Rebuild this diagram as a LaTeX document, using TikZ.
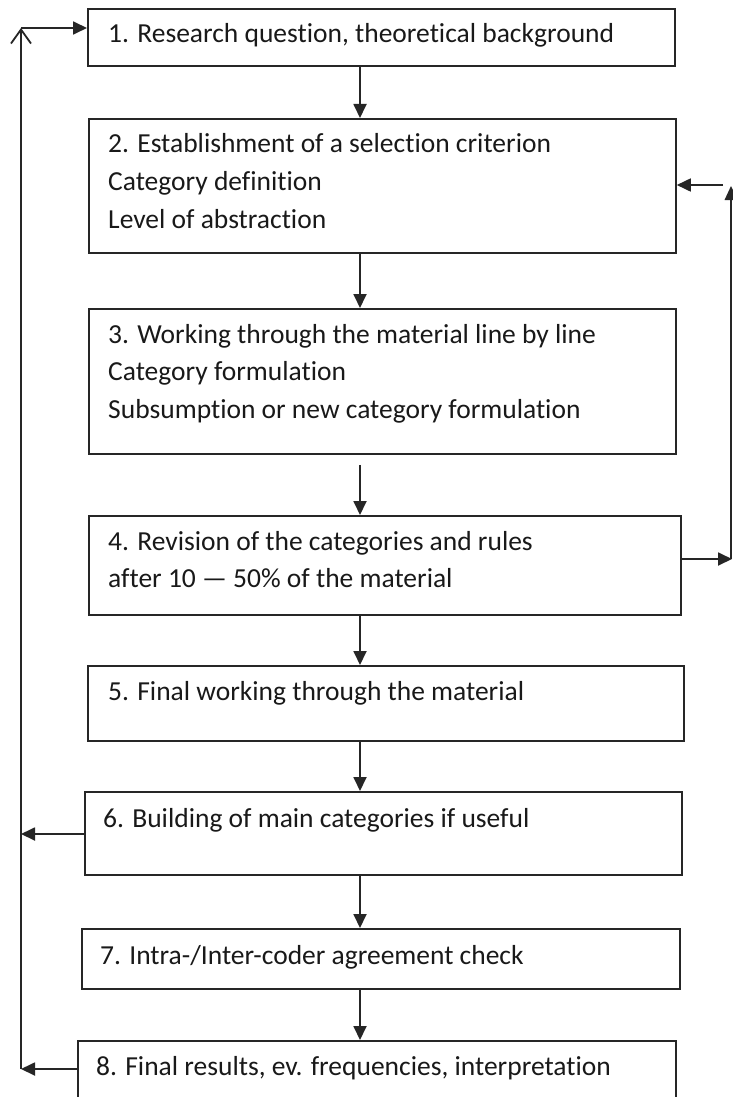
\documentclass[tikz,border=0pt]{standalone}
\usepackage{fontspec}
\setmainfont{Carlito}[Ligatures=NoCommon]
\usetikzlibrary{arrows.meta,calc}
\begin{document}
\begin{tikzpicture}[x=1pt,y=-1pt,
  box/.style={draw=black!85,line width=1.8pt,rectangle,inner sep=0pt,anchor=north west},
  txt/.style={anchor=base west,inner sep=0pt,font=\fontsize{27.5}{33}\selectfont,text=black!90},
  arr/.style={draw=black!85,line width=1.8pt,-{Triangle[length=14pt,width=13pt]}},
  ln/.style={draw=black!85,line width=1.8pt},
  openarr/.style={draw=black!85,line width=1.8pt,-{Straight Barb[length=14pt,width=20pt]}}]
\clip (0,0) rectangle (733,1097);
\fill[white] (0,0) rectangle (733,1097);
% boxes
\node[box,minimum width=587pt,minimum height=57pt] (b1) at (87,8) {};
\node[box,minimum width=587pt,minimum height=134pt] (b2) at (88,118) {};
\node[box,minimum width=587pt,minimum height=145pt] (b3) at (88,308) {};
\node[box,minimum width=592pt,minimum height=99pt] (b4) at (88,515) {};
\node[box,minimum width=596pt,minimum height=75pt] (b5) at (87,665) {};
\node[box,minimum width=597pt,minimum height=83pt] (b6) at (84,791) {};
\node[box,minimum width=598pt,minimum height=60pt] (b7) at (81,928) {};
\node[box,minimum width=598pt,minimum height=80pt] (b8) at (77,1040) {};
% texts
\node[txt] (t1) at (108,43) {1. Research question, theoretical background};
\node[txt] (t2a) at (108,153) {2. Establishment of a selection criterion};
\node[txt] (t2b) at (108,190.5) {Category definition};
\node[txt] (t2c) at (108,228) {Level of abstraction};
\node[txt] (t3a) at (108,343) {3. Working through the material line by line};
\node[txt] (t3b) at (108,380.5) {Category formulation};
\node[txt] (t3c) at (108,418) {Subsumption or new category formulation};
\node[txt] (t4a) at (108,550) {4. Revision of the categories and rules};
\node[txt] (t4b) at (108,587.5) {after 10 — 50\% of the material};
\node[txt] (t5) at (108,700) {5. Final working through the material};
\node[txt] (t6) at (103,827) {6. Building of main categories if useful};
\node[txt] (t7) at (100,964) {7. Intra-/Inter-coder agreement check};
\node[txt] (t8) at (96,1075) {8. Final results, ev. frequencies, interpretation};
% main flow
\coordinate (xc) at (360,0);
\draw[arr] (b1.south -| xc) -- (b2.north -| xc);
\draw[arr] (b2.south -| xc) -- (b3.north -| xc);
\draw[arr] ([yshift=-10pt]b3.south -| xc) -- (b4.north -| xc);
\draw[arr] (b4.south -| xc) -- (b5.north -| xc);
\draw[arr] (b5.south -| xc) -- (b6.north -| xc);
\draw[arr] (b6.south -| xc) -- (b7.north -| xc);
\draw[arr] (b7.south -| xc) -- (b8.north -| xc);
% right loop
\coordinate (r0) at (680,559);
\coordinate (r1) at (732,559);
\coordinate (r2) at (731,186);
\coordinate (r3) at (723,185);
\draw[arr] (b4.east |- r0) -- (r1);
\draw[ln] (731,559) -- (731,196);
\fill[black!85] (r2) -- (724.5,200) -- (737.5,200) -- cycle;
\draw[arr] (r3) -- (b2.east |- r3);
% left loop
\coordinate (l6) at (21,834);
\coordinate (l8) at (21,1069);
\coordinate (ltop) at (21,28);
\draw[arr] (b6.west |- l6) -- (l6);
\draw[arr] (b8.west |- l8) -- (l8);
\draw[openarr] (l8) -- (ltop);
\draw[arr] (ltop) -- (b1.west |- ltop);
\end{tikzpicture}
\end{document}
